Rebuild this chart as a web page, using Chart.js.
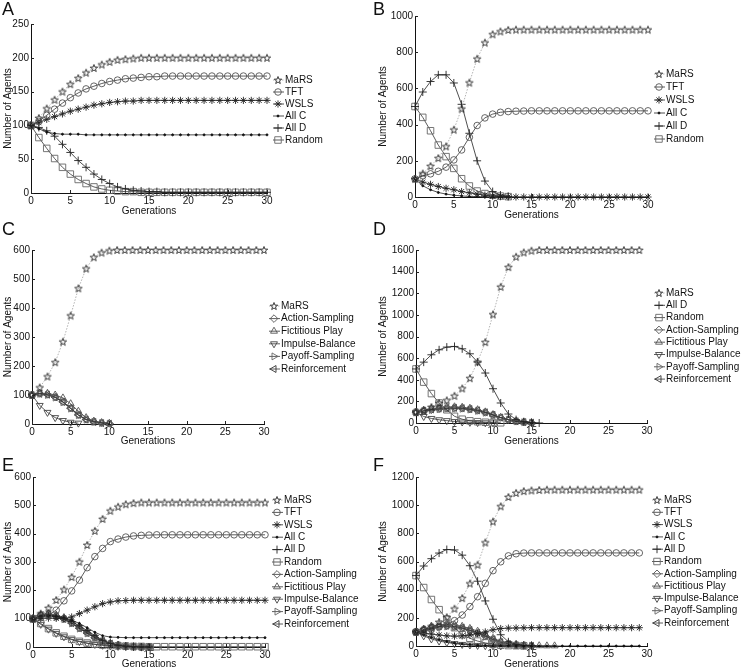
<!DOCTYPE html>
<html>
<head>
<meta charset="utf-8">
<script src="https://cdn.jsdelivr.net/npm/chart.js@4.4.1/dist/chart.umd.min.js"></script>
<style>
  body { margin: 0; background: #fff; }
  #wrap { position: relative; width: 741px; height: 669px; overflow: hidden; font-family: "Liberation Sans", Arial, sans-serif; }
  canvas { position: absolute; }
  .letra { position: absolute; font-size: 18px; line-height: 18px; color: #111; }
</style>
</head>
<body>
<div id="wrap">
  <canvas id="cA"></canvas>
  <canvas id="cB"></canvas>
  <canvas id="cC"></canvas>
  <canvas id="cD"></canvas>
  <canvas id="cE"></canvas>
  <canvas id="cF"></canvas>
  <div class="letra" style="left:2px;top:0px">A</div>
  <div class="letra" style="left:373px;top:0px">B</div>
  <div class="letra" style="left:2px;top:220px">C</div>
  <div class="letra" style="left:373px;top:220px">D</div>
  <div class="letra" style="left:2px;top:456px">E</div>
  <div class="letra" style="left:373px;top:456px">F</div>
</div>
<script>
// Generations (x axis)
const generations = [0,1,2,3,4,5,6,7,8,9,10,11,12,13,14,15,16,17,18,19,20,21,22,23,24,25,26,27,28,29,30];

// Panel A
const aMaRS = [100,111,125,138,150,161,170,178,185,190,194,197,198,199,200,200,200,200,200,200,200,200,200,200,200,200,200,200,200,200,200];
const aTFT = [100,106,115,124,133,141,148,154,158,162,165,167,169,170,171,172,172,173,173,173,173,173,173,173,173,173,173,173,173,173,173];
const aWSLS = [100,104,109,113,117,121,124,127,130,132,134,135,136,136,137,137,137,137,137,137,137,137,137,137,137,137,137,137,137,137,137];
const aAllC = [100,95,90,88,87,87,87,86,86,86,86,86,86,86,86,86,86,86,86,86,86,86,86,86,86,86,86,86,86,86,86];
const aAllD = [100,97,92,84,72,60,48,38,28,20,14,9,6,4,3,2,2,1,1,1,1,1,1,1,1,1,1,1,1,1,1];
const aRandom = [100,82,66,51,38,28,20,14,9,6,4,3,2,2,1,1,1,1,1,1,1,1,1,1,1,1,1,1,1,1,1];

// Panel B
const bMaRS = [100,130,171,215,280,372,488,632,764,853,899,915,923,925,925,925,925,925,925,925,925,925,925,925,925,925,925,925,925,925,925];
const bTFT = [100,117,128,142,165,205,260,330,395,437,458,468,472,474,475,476,476,476,476,476,476,476,476,476,476,476,476,476,476,476,476];
const bWSLS = [100,82,70,58,48,40,30,23,16,10,5,2,1,0,0,0,0,0,0,0,0,0,0,0,0,0,0,0,0,0,0];
const bAllC = [100,62,40,25,16,10,6,3,2,1,0,0,0];
const bAllD = [500,580,638,675,675,630,512,352,200,88,30,11,4];
const bRandom = [500,440,366,287,223,158,101,61,33,19,10,5,2];

// Panel C
const cMaRS = [100,126,164,213,284,374,468,536,575,591,598,600,600,600,600,600,600,600,600,600,600,600,600,600,600,600,600,600,600,600,600];
const cAction = [100,105,102,93,77,55,32,16,8,4,2];
const cFictitious = [100,106,106,100,90,70,44,22,10,5,2];
const cImpulse = [100,64,40,22,12,6,3];
const cPayoff = [100,104,100,91,75,53,30,15,7,3,1];
const cReinforcement = [100,104,101,92,76,54,31,15,7,3,1];

// Panel D
const dMaRS = [100,118,148,185,210,252,320,415,565,748,1005,1260,1442,1538,1578,1594,1600,1600,1600,1600,1600,1600,1600,1600,1600,1600,1600,1600,1600,1600];
const dAllD = [500,563,631,677,702,708,686,640,563,462,317,185,83,31,12,3,0];
const dRandom = [500,378,272,185,122,62,35,20,12,7,4,2];
const dAction = [100,112,122,130,136,138,136,128,116,98,74,50,30,16,8,3];
const dFictitious = [100,118,132,142,148,150,146,137,123,103,78,52,31,17,8,3];
const dImpulse = [100,60,42,30,22,14,9,6,4,2,1];
const dPayoff = [100,110,120,128,133,135,132,124,112,95,71,48,29,15,7,2];
const dReinforcement = [100,114,125,133,138,140,137,129,117,99,75,50,30,16,8,3];

// Panel E
const eMaRS = [100,118,138,166,203,247,301,360,410,452,481,495,504,508,510,510,510,510,510,510,510,510,510,510,510,510,510,510,510,510,510];
const eTFT = [100,104,113,130,163,198,236,280,319,348,372,381,388,392,394,395,396,396,396,396,396,396,396,396,396,396,396,396,396,396,396];
const eWSLS = [100,101,102,101,100,106,118,130,142,153,159,163,164,165,165,165,165,165,165,165,165,165,165,165,165,165,165,165,165,165,165];
const eAllC = [100,108,110,108,103,95,83,68,52,40,35,34,33,33,33,33,33,33,33,33,33,33,33,33,33,33,33,33,33,33,33];
const eAllD = [100,110,112,108,101,90,75,58,40,24,13,6,3,1,0,0];
const eRandom = [100,83,65,50,38,27,20,14,10,7,5,4,3,2,2,1,1,1,1,1,1,1,1,1,1,1,1,1,1,1,1];
const eAction = [100,112,115,109,100,85,67,50,33,21,12,6,3,1,0,0];
const eFictitious = [100,114,118,113,104,90,72,54,36,23,13,7,3,1,0,0];
const eImpulse = [100,80,63,48,36,26,19,13,9,6,4,2,1,0,0,0];
const ePayoff = [100,111,113,107,98,83,65,48,32,20,11,5,2,1,0,0];
const eReinforcement = [100,112,114,108,99,84,66,49,33,21,12,6,3,1,0,0];

// Panel F
const fMaRS = [100,120,140,170,205,265,340,444,577,735,884,992,1058,1087,1100,1105,1108,1110,1110,1110,1110,1110,1110,1110,1110,1110,1110,1110,1110,1110];
const fTFT = [100,110,120,135,150,180,220,280,350,445,535,598,640,655,660,661,661,661,661,661,661,661,661,661,661,661,661,661,661,661];
const fWSLS = [100,92,85,78,72,70,72,78,88,100,115,124,127,128,129,130,130,130,130,130,130,130,130,130,130,130,130,130,130,130];
const fAllC = [100,80,60,45,32,22,15,10,6,4,2,1,1,0,0,0,0,0,0,0,0,0,0,0,0,0,0,0,0,0];
const fAllD = [500,568,620,660,685,682,645,570,460,320,190,80,30,12,5,2];
const fRandom = [500,415,330,258,190,130,80,55,35,22,12,6,3,2,1];
const fAction = [100,115,130,138,142,138,128,112,92,70,46,26,13,6,3,1];
const fFictitious = [100,120,140,150,155,150,140,125,105,80,55,32,18,10,5,3,2,1,1];
const fImpulse = [100,72,50,35,25,17,11,7,4,2,1,0];
const fPayoff = [100,112,126,134,138,134,124,108,88,66,43,24,12,5,2,1];
const fReinforcement = [100,116,132,140,144,140,130,114,94,72,48,27,14,6,3,1];

// Five-pointed star marker
function crearEstrella(color) {
    const c = document.createElement('canvas');
    c.width = 10;
    c.height = 10;
    const g = c.getContext('2d');
    g.strokeStyle = color;
    g.lineWidth = 0.9;
    g.lineJoin = 'miter';
    g.beginPath();
    for (let i = 0; i < 10; i++) {
        const r = i % 2 ? 1.6 : 3.9;
        const a = -Math.PI / 2 + i * Math.PI / 5;
        const px = 5 + r * Math.cos(a);
        const py = 5.4 + r * Math.sin(a);
        if (i === 0) g.moveTo(px, py); else g.lineTo(px, py);
    }
    g.closePath();
    g.stroke();
    return c;
}

const estrella = crearEstrella('#2a2a2a');

const estilos = {
    'MaRS': { line: '#a0a0a0', dash: [1.5, 1.5], marker: estrella, radius: 4, edge: '#2a2a2a' },
    'TFT': { line: '#333', marker: 'circle', radius: 3.3, edge: '#555' },
    'WSLS': { line: '#222', marker: 'star', radius: 3.6, edge: '#222' },
    'All C': { line: '#222', marker: 'circle', radius: 1, edge: '#111', fill: '#111' },
    'All D': { line: '#222', marker: 'cross', radius: 4, edge: '#222' },
    'Random': { line: '#333', marker: 'rect', radius: 4.6, edge: '#666' },
    'Action-Sampling': { line: '#333', marker: 'rectRot', radius: 3.8, edge: '#555' },
    'Fictitious Play': { line: '#333', marker: 'triangle', radius: 4, edge: '#555' },
    'Impulse-Balance': { line: '#333', marker: 'triangle', rotation: 180, radius: 4, edge: '#444' },
    'Payoff-Sampling': { line: '#333', marker: 'triangle', rotation: 90, radius: 4, edge: '#666' },
    'Reinforcement': { line: '#333', marker: 'triangle', rotation: -90, radius: 4, edge: '#333' }
};

// Panel layout, page coordinates
const paneles = [
    { id: 'cA', left: 0, top: 0, w: 370, h: 228, area: [31, 24, 267, 193], yMax: 250, yStep: 50, gy: 211, nx: 8,
      legend: { x: 278, y: 80, dy: 12 },
      series: [['MaRS', aMaRS], ['TFT', aTFT], ['WSLS', aWSLS], ['All C', aAllC], ['All D', aAllD], ['Random', aRandom]] },
    { id: 'cB', left: 370, top: 0, w: 371, h: 228, area: [415, 16, 648, 197], yMax: 1000, yStep: 200, gy: 215, nx: 383,
      legend: { x: 659, y: 74, dy: 13 },
      series: [['MaRS', bMaRS], ['TFT', bTFT], ['WSLS', bWSLS], ['All C', bAllC], ['All D', bAllD], ['Random', bRandom]] },
    { id: 'cC', left: 0, top: 222, w: 370, h: 228, area: [32, 250, 264, 424], yMax: 600, yStep: 100, gy: 441, nx: 8,
      legend: { x: 274, y: 306, dy: 12.6 },
      series: [['MaRS', cMaRS], ['Action-Sampling', cAction], ['Fictitious Play', cFictitious], ['Impulse-Balance', cImpulse],
               ['Payoff-Sampling', cPayoff], ['Reinforcement', cReinforcement]] },
    { id: 'cD', left: 370, top: 222, w: 371, h: 228, area: [416, 250, 647, 423], yMax: 1600, yStep: 200, gy: 441, nx: 383,
      legend: { x: 659, y: 293, dy: 12.3 },
      series: [['MaRS', dMaRS], ['All D', dAllD], ['Random', dRandom], ['Action-Sampling', dAction], ['Fictitious Play', dFictitious],
               ['Impulse-Balance', dImpulse], ['Payoff-Sampling', dPayoff], ['Reinforcement', dReinforcement]] },
    { id: 'cE', left: 0, top: 445, w: 370, h: 224, area: [33, 477, 265, 647], yMax: 600, yStep: 100, gy: 664, nx: 8,
      legend: { x: 277, y: 500, dy: 12.4 },
      series: [['MaRS', eMaRS], ['TFT', eTFT], ['WSLS', eWSLS], ['All C', eAllC], ['All D', eAllD], ['Random', eRandom],
               ['Action-Sampling', eAction], ['Fictitious Play', eFictitious], ['Impulse-Balance', eImpulse],
               ['Payoff-Sampling', ePayoff], ['Reinforcement', eReinforcement]] },
    { id: 'cF', left: 370, top: 445, w: 371, h: 224, area: [416, 477, 647, 646], yMax: 1200, yStep: 200, gy: 664, nx: 383,
      legend: { x: 657, y: 500, dy: 12.3 },
      series: [['MaRS', fMaRS], ['TFT', fTFT], ['WSLS', fWSLS], ['All C', fAllC], ['All D', fAllD], ['Random', fRandom],
               ['Action-Sampling', fAction], ['Fictitious Play', fFictitious], ['Impulse-Balance', fImpulse],
               ['Payoff-Sampling', fPayoff], ['Reinforcement', fReinforcement]] }
];

const fuente = '"Liberation Sans", Arial, sans-serif';

function crearDataset(nombre, valores) {
    const e = estilos[nombre];
    return {
        label: nombre,
        data: valores,
        borderColor: e.line,
        borderWidth: 0.8,
        borderDash: e.dash || [],
        pointStyle: e.marker,
        pointRadius: e.radius,
        pointRotation: e.rotation || 0,
        pointBorderColor: e.edge,
        pointBackgroundColor: e.fill || 'rgba(0,0,0,0)',
        pointBorderWidth: 0.9,
        tension: 0,
        fill: false,
        clip: false
    };
}

// Ticks pointing into the plot, like the original
const ticksDentro = {
    id: 'ticksDentro',
    afterDraw(chart) {
        const { ctx, chartArea, scales } = chart;
        ctx.save();
        ctx.strokeStyle = '#222';
        ctx.lineWidth = 1;
        scales.x.ticks.forEach(t => {
            const x = Math.round(scales.x.getPixelForValue(t.value)) + 0.5;
            ctx.beginPath();
            ctx.moveTo(x, chartArea.bottom);
            ctx.lineTo(x, chartArea.bottom - 3);
            ctx.stroke();
        });
        scales.y.ticks.forEach(t => {
            const y = Math.round(scales.y.getPixelForValue(t.value)) + 0.5;
            ctx.beginPath();
            ctx.moveTo(chartArea.left, y);
            ctx.lineTo(chartArea.left + 3, y);
            ctx.stroke();
        });
        ctx.restore();
    }
};

// Legend with line + marker, drawn at the right of the plot
function pluginLeyenda(p) {
    return {
        id: 'leyenda',
        afterDraw(chart) {
            const ctx = chart.ctx;
            const x = p.legend.x - p.left;
            p.series.forEach(([nombre], i) => {
                const e = estilos[nombre];
                const y = p.legend.y - p.top + i * p.legend.dy;
                ctx.save();
                ctx.strokeStyle = e.line;
                ctx.lineWidth = 0.8;
                ctx.setLineDash(e.dash || []);
                ctx.beginPath();
                ctx.moveTo(x - 5, y);
                ctx.lineTo(x + 6, y);
                ctx.stroke();
                ctx.setLineDash([]);
                ctx.strokeStyle = e.edge;
                ctx.fillStyle = e.fill || 'rgba(0,0,0,0)';
                ctx.lineWidth = 0.9;
                Chart.helpers.drawPoint(ctx, { pointStyle: e.marker, radius: e.radius, rotation: e.rotation || 0, borderWidth: 0.9 }, x, y);
                ctx.fillStyle = '#111';
                ctx.font = '10px ' + fuente;
                ctx.textBaseline = 'middle';
                ctx.textAlign = 'left';
                ctx.fillText(nombre, x + 7, y);
                ctx.restore();
            });
        }
    };
}

function crearPanel(p) {
    const canvas = document.getElementById(p.id);
    canvas.width = p.w;
    canvas.height = p.h;
    canvas.style.left = p.left + 'px';
    canvas.style.top = p.top + 'px';

    const L = p.area[0] - p.left;
    const T = p.area[1] - p.top;
    const R = p.area[2] - p.left;
    const B = p.area[3] - p.top;
    const lh = 10;
    const padLeft = p.nx - p.left - lh / 2;
    const xBottom = Math.min(p.gy - p.top + lh / 2, p.h);
    const yWidth = L - padLeft;
    const xHeight = xBottom - B;

    new Chart(canvas.getContext('2d'), {
        type: 'line',
        data: {
            labels: generations,
            datasets: p.series.map(([nombre, valores]) => crearDataset(nombre, valores))
        },
        options: {
            responsive: false,
            animation: false,
            events: [],
            layout: { padding: { left: padLeft, top: T, right: p.w - R, bottom: p.h - xBottom } },
            plugins: { legend: { display: false }, tooltip: { enabled: false } },
            scales: {
                x: {
                    type: 'linear',
                    min: 0,
                    max: 30,
                    grid: { display: false, drawTicks: false },
                    border: { color: '#111', width: 1 },
                    ticks: { stepSize: 5, color: '#111', padding: 2, maxRotation: 0, font: { family: fuente, size: 10 } },
                    title: { display: true, text: 'Generations', color: '#111', padding: 0, font: { family: fuente, size: 10, lineHeight: 1 } },
                    afterFit(scale) { scale.height = xHeight; }
                },
                y: {
                    min: 0,
                    max: p.yMax,
                    grid: { display: false, drawTicks: false },
                    border: { color: '#111', width: 1 },
                    ticks: { stepSize: p.yStep, color: '#111', padding: 2, font: { family: fuente, size: 10 }, callback: v => String(v) },
                    title: { display: true, text: 'Number of Agents', color: '#111', padding: 0, font: { family: fuente, size: 10, lineHeight: 1 } },
                    afterFit(scale) { scale.width = yWidth; }
                }
            }
        },
        plugins: [ticksDentro, pluginLeyenda(p)]
    });
}

paneles.forEach(crearPanel);
</script>
</body>
</html>
